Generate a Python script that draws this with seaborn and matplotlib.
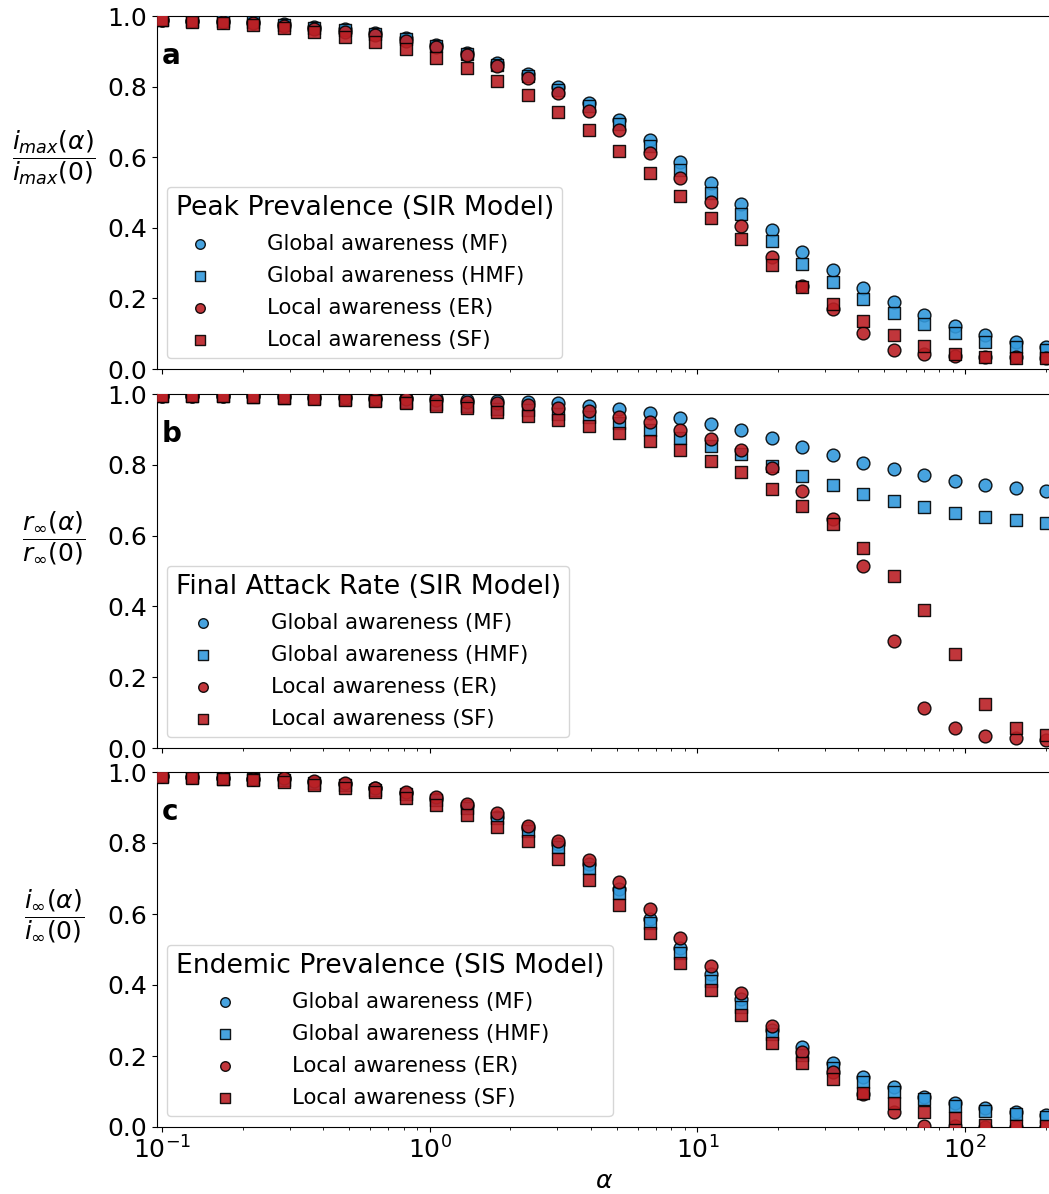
import numpy as np
import matplotlib
matplotlib.use("Agg")
import matplotlib.pyplot as plt
import seaborn as sns

plt.rcParams['font.family'] = ['DejaVu Sans']
plt.rcParams['mathtext.fontset'] = 'dejavusans'

alpha = [0.1, 0.13, 0.169, 0.2197, 0.2856, 0.3713, 0.4827, 0.6275, 0.8157, 1.0604,
         1.3786, 1.7922, 2.3298, 3.0288, 3.9374, 5.1186, 6.6542, 8.6504, 11.2455, 14.6192,
         19.005, 24.706, 32.118, 41.753, 54.279, 70.563, 91.732, 119.25, 155.03, 201.54]

series_labels = ["Global awareness (MF)", "Global awareness (HMF)",
                 "Local awareness (ER)", "Local awareness (SF)"]

# Panel a: peak prevalence (SIR)
peak_mf = [0.99, 0.987, 0.986, 0.984, 0.977, 0.97, 0.962, 0.951, 0.937, 0.918,
           0.896, 0.866, 0.836, 0.80, 0.754, 0.705, 0.649, 0.587, 0.527, 0.467,
           0.394, 0.332, 0.28, 0.229, 0.189, 0.153, 0.123, 0.096, 0.077, 0.061]
peak_hmf = [0.99, 0.986, 0.985, 0.982, 0.975, 0.967, 0.959, 0.948, 0.934, 0.915,
            0.893, 0.862, 0.83, 0.79, 0.745, 0.693, 0.633, 0.564, 0.50, 0.439,
            0.362, 0.298, 0.246, 0.197, 0.159, 0.127, 0.101, 0.077, 0.061, 0.054]
peak_er = [0.99, 0.985, 0.983, 0.981, 0.973, 0.962, 0.956, 0.946, 0.93, 0.911,
           0.89, 0.858, 0.823, 0.781, 0.731, 0.677, 0.613, 0.542, 0.474, 0.405,
           0.316, 0.236, 0.169, 0.101, 0.054, 0.042, 0.037, 0.035, 0.033, 0.03]
peak_sf = [0.99, 0.983, 0.979, 0.974, 0.965, 0.955, 0.94, 0.925, 0.906, 0.882,
           0.854, 0.817, 0.776, 0.729, 0.677, 0.618, 0.556, 0.491, 0.427, 0.367,
           0.295, 0.233, 0.184, 0.136, 0.097, 0.065, 0.042, 0.033, 0.032, 0.032]

# Panel b: final attack rate (SIR)
attack_mf = [0.995, 0.995, 0.994, 0.994, 0.993, 0.992, 0.991, 0.99, 0.988, 0.988,
             0.983, 0.98, 0.977, 0.974, 0.967, 0.958, 0.945, 0.931, 0.916, 0.899,
             0.875, 0.85, 0.829, 0.806, 0.787, 0.77, 0.755, 0.744, 0.734, 0.726]
attack_hmf = [0.995, 0.994, 0.993, 0.992, 0.99, 0.988, 0.985, 0.982, 0.978, 0.972,
              0.965, 0.958, 0.955, 0.943, 0.936, 0.917, 0.898, 0.877, 0.854, 0.83,
              0.797, 0.768, 0.743, 0.718, 0.698, 0.68, 0.665, 0.652, 0.643, 0.636]
attack_er = [0.995, 0.994, 0.993, 0.993, 0.991, 0.99, 0.988, 0.985, 0.986, 0.983,
             0.978, 0.974, 0.969, 0.961, 0.952, 0.936, 0.92, 0.898, 0.873, 0.842,
             0.79, 0.727, 0.647, 0.514, 0.303, 0.114, 0.056, 0.035, 0.027, 0.023]
attack_sf = [0.995, 0.994, 0.993, 0.992, 0.988, 0.986, 0.983, 0.98, 0.974, 0.967,
             0.96, 0.95, 0.939, 0.927, 0.91, 0.891, 0.868, 0.842, 0.811, 0.781,
             0.733, 0.683, 0.632, 0.564, 0.487, 0.39, 0.266, 0.123, 0.056, 0.037]

# Panel c: endemic prevalence (SIS)
endemic_mf = [0.988, 0.985, 0.982, 0.98, 0.98, 0.973, 0.966, 0.954, 0.941, 0.925,
              0.905, 0.874, 0.841, 0.797, 0.742, 0.67, 0.586, 0.505, 0.43, 0.36,
              0.274, 0.225, 0.179, 0.14, 0.112, 0.085, 0.067, 0.053, 0.043, 0.034]
endemic_hmf = [0.988, 0.985, 0.981, 0.979, 0.977, 0.97, 0.962, 0.95, 0.937, 0.92,
               0.9, 0.87, 0.835, 0.79, 0.73, 0.658, 0.574, 0.489, 0.41, 0.339,
               0.261, 0.203, 0.165, 0.126, 0.098, 0.078, 0.06, 0.045, 0.037, 0.029]
endemic_er = [0.988, 0.985, 0.982, 0.98, 0.982, 0.975, 0.968, 0.956, 0.945, 0.93,
              0.909, 0.884, 0.849, 0.806, 0.752, 0.689, 0.614, 0.533, 0.454, 0.377,
              0.285, 0.212, 0.156, 0.092, 0.043, 0.004, 0.002, 0.0, 0.0, 0.0]
endemic_sf = [0.987, 0.984, 0.98, 0.977, 0.971, 0.963, 0.954, 0.943, 0.926, 0.907,
              0.879, 0.846, 0.806, 0.755, 0.696, 0.625, 0.546, 0.463, 0.386, 0.315,
              0.237, 0.179, 0.135, 0.095, 0.067, 0.043, 0.024, 0.006, 0.004, 0.003]

panel_titles = ["Peak Prevalence (SIR Model)", "Final Attack Rate (SIR Model)",
                "Endemic Prevalence (SIS Model)"]
panel_letters = ["a", "b", "c"]
ylabels = [r"$\dfrac{i_{max}(\alpha)}{i_{max}(0)}$",
           r"$\dfrac{r_{\infty}(\alpha)}{r_{\infty}(0)}$",
           r"$\dfrac{i_{\infty}(\alpha)}{i_{\infty}(0)}$"]
panel_data = [
    [peak_mf, peak_hmf, peak_er, peak_sf],
    [attack_mf, attack_hmf, attack_er, attack_sf],
    [endemic_mf, endemic_hmf, endemic_er, endemic_sf],
]

blue = "#3399DC"
red = "#BB2025"
colors = [blue, blue, red, red]
markers = ["o", "s", "o", "s"]

W, H = 1049, 1194
fig = plt.figure(figsize=(W / 100, H / 100), dpi=100)

# axes pixel extents (top, bottom)
extents = [(16, 369), (394, 748), (772, 1127)]
left_px, right_px = 156.5, 1051

axes = []
for (top, bot) in extents:
    ax = fig.add_axes([left_px / W, 1 - bot / H, (right_px - left_px) / W, (bot - top) / H])
    axes.append(ax)

# invisible trailing padding keeps the legend entries where the reference has them
pad = "\u2002 "

for i, ax in enumerate(axes):
    for vals, col, mk, lab in zip(panel_data[i], colors, markers, series_labels):
        sns.scatterplot(x=alpha, y=vals, ax=ax, marker=mk, color=col,
                        edgecolor="black", linewidth=1.0, s=85, alpha=0.9,
                        label=lab + pad, zorder=3)
    ax.set_xscale("log")
    ax.set_xlim(0.0954, 209.6)
    ax.set_ylim(0.0, 1.0)
    ax.set_yticks([0.0, 0.2, 0.4, 0.6, 0.8, 1.0])
    ax.tick_params(axis="both", labelsize=18)
    ax.set_ylabel(ylabels[i], rotation=0, fontsize=18, labelpad=38)
    ax.yaxis.set_label_coords(-0.115, 0.515)
    ax.text(0.006, 0.865, panel_letters[i], transform=ax.transAxes,
            fontsize=20, fontweight="bold", va="baseline", ha="left")
    ax.legend(title=panel_titles[i], loc="lower left", fontsize=15.3,
              title_fontsize=19.2, handletextpad=2.6, handlelength=1.15,
              labelspacing=0.57, markerscale=0.75)
    if i < 2:
        ax.tick_params(axis="x", labelbottom=False)

axes[2].set_xlabel(r"$\alpha$", fontsize=18)

fig.savefig("out.png", dpi=100)
